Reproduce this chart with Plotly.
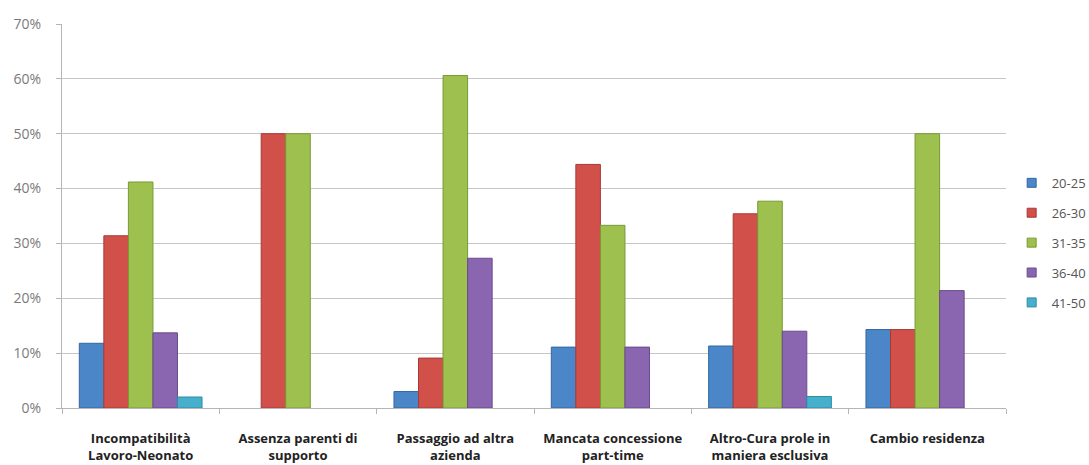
import plotly.graph_objects as go

categories = [
    "Incompatibilità<br>Lavoro-Neonato",
    "Assenza parenti di<br>supporto",
    "Passaggio ad altra<br>azienda",
    "Mancata concessione<br>part-time",
    "Altro-Cura prole in<br>maniera esclusiva",
    "Cambio residenza",
]

age_groups = ["20-25", "26-30", "31-35", "36-40", "41-50"]

# Share of respondents per reason (%), one list per age group
v_20_25 = [11.8, 0.0, 3.0, 11.1, 11.3, 14.3]
v_26_30 = [31.4, 50.0, 9.1, 44.4, 35.4, 14.3]
v_31_35 = [41.2, 50.0, 60.6, 33.3, 37.7, 50.0]
v_36_40 = [13.7, 0.0, 27.3, 11.1, 14.0, 21.4]
v_41_50 = [2.0, 0.0, 0.0, 0.0, 2.1, 0.0]

series = [v_20_25, v_26_30, v_31_35, v_36_40, v_41_50]
colors = ["#4a86c8", "#d2504a", "#9dc04f", "#8a66b0", "#46b0cc"]
edges = ["#34679f", "#a83a35", "#789a35", "#684c8c", "#2f8aa3"]

fig = go.Figure()
for name, vals, col, edge in zip(age_groups, series, colors, edges):
    # empty bars get no outline so nothing is drawn on the baseline
    fig.add_trace(go.Bar(
        x=categories,
        y=[v / 100 for v in vals],
        name=name,
        showlegend=False,
        marker=dict(
            color=col,
            line=dict(color=edge, width=[1 if v > 0 else 0 for v in vals]),
        ),
    ))

# small square legend keys
for name, col, edge in zip(age_groups, colors, edges):
    fig.add_trace(go.Scatter(
        x=[None], y=[None],
        mode="markers",
        name=name,
        legendgroup=name,
        marker=dict(symbol="square", size=9, color=col,
                    line=dict(color=edge, width=1)),
    ))

fig.update_layout(
    barmode="group",
    bargap=0.22,
    bargroupgap=0,
    width=1089,
    height=465,
    margin=dict(l=62, r=83, t=24, b=57, autoexpand=False),
    paper_bgcolor="white",
    plot_bgcolor="white",
    font=dict(family="'Open Sans', sans-serif", color="#333333"),
    legend=dict(
        x=1.006, xanchor="left",
        y=0.43, yanchor="middle",
        font=dict(size=13, color="#555555"),
        tracegroupgap=10,
        itemwidth=30,
        bgcolor="rgba(0,0,0,0)",
    ),
    showlegend=True,
)

fig.update_yaxes(
    range=[0, 0.7],
    dtick=0.1,
    tickformat=".0%",
    showgrid=True,
    gridcolor="#c6c6c6",
    gridwidth=1,
    showline=True,
    linecolor="#b5b5b5",
    ticks="outside",
    ticklen=5,
    tickcolor="#b5b5b5",
    tickfont=dict(size=14, color="#7a7a7a"),
    ticklabelstandoff=12,
    zeroline=False,
    automargin=False,
)

fig.update_xaxes(
    showline=True,
    linecolor="#b5b5b5",
    ticks="outside",
    tickson="boundaries",
    ticklen=5,
    tickcolor="#b5b5b5",
    tickfont=dict(size=13, color="#222222", family="'Open Sans', sans-serif",
                  weight="bold"),
    ticklabelstandoff=18,
    automargin=False,
)

fig.write_html("out.html")
